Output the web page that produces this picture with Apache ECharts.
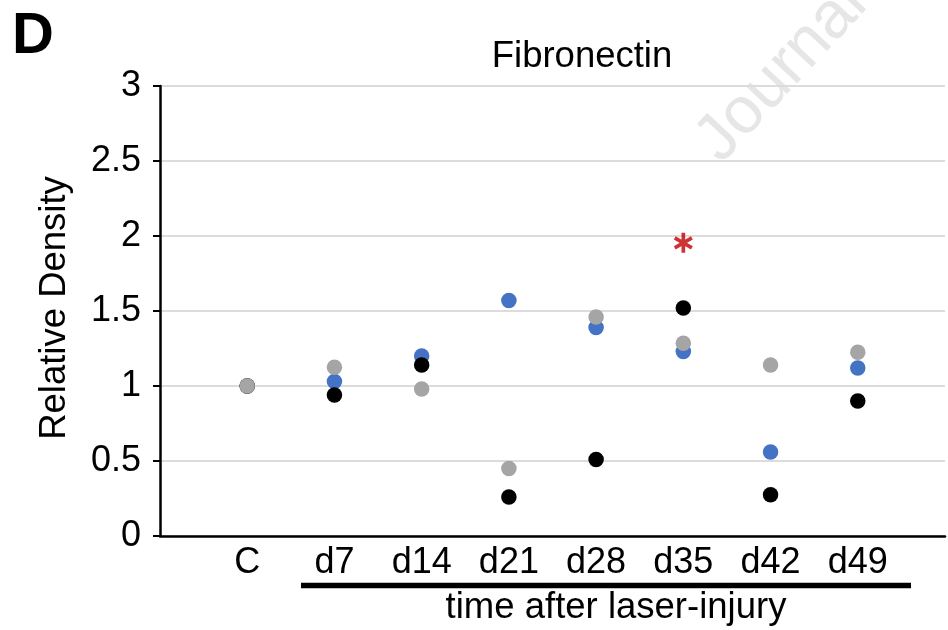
<!DOCTYPE html>
<html>
<head>
<meta charset="utf-8">
<title>Fibronectin</title>
<script src="https://cdn.jsdelivr.net/npm/echarts@6/dist/echarts.min.js"></script>
<style>
  html, body { margin: 0; padding: 0; background: #ffffff; }
  #chart { width: 948px; height: 630px; }
</style>
</head>
<body>
<div id="chart"></div>
<script>
// Time points after laser injury (C = control)
const categories = ['C', 'd7', 'd14', 'd21', 'd28', 'd35', 'd42', 'd49'];

// Relative fibronectin density, one array per replicate
const grayValues  = [1.00, 1.125, 0.98, 0.45, 1.46, 1.285, 1.14, 1.225];
const blueValues  = [1.00, 1.03, 1.20, 1.57, 1.39, 1.23, 0.56, 1.12];
const blackValues = [1.00, 0.94, 1.14, 0.26, 0.51, 1.52, 0.275, 0.90];

// Significance marker
const significance = [['d35', 1.955]];

// Y axis scale
const yMin = 0;
const yMax = 3;
const yStep = 0.5;

const FONT = '"Liberation Sans", Arial, Helvetica, sans-serif';

// Pad the category axis with an empty slot on each side so the points sit inset
const axisCategories = [''].concat(categories, ['']);

// Six-armed asterisk drawn as three overlapping bars
const asteriskPath = 'path://M-1.5 -8 L1.5 -8 L1.5 8 L-1.5 8 Z ' +
  'M-7.7 -2.7 L-6.2 -5.3 L7.7 2.7 L6.2 5.3 Z ' +
  'M6.2 -5.3 L7.7 -2.7 L-6.2 5.3 L-7.7 2.7 Z';

const chart = echarts.init(document.getElementById('chart'), null, { renderer: 'canvas' });

function scatterSeries(name, values, color, z) {
  return {
    name: name,
    type: 'scatter',
    symbol: 'circle',
    symbolSize: 15.5,
    z: z,
    itemStyle: { color: color, opacity: 1 },
    emphasis: { disabled: true },
    data: categories.map((c, i) => [c, values[i]])
  };
}

chart.setOption({
  animation: false,
  backgroundColor: '#ffffff',
  grid: { left: 160, top: 86, width: 792, height: 450, containLabel: false },
  xAxis: {
    type: 'category',
    data: axisCategories,
    boundaryGap: false,
    axisLine: { show: true, lineStyle: { color: '#000000', width: 2.5 } },
    axisTick: { show: false },
    splitLine: { show: false },
    axisLabel: {
      interval: 0,
      color: '#000000',
      fontFamily: FONT,
      fontSize: 36,
      margin: 9
    }
  },
  yAxis: {
    type: 'value',
    min: yMin,
    max: yMax,
    interval: yStep,
    axisLine: { show: true, lineStyle: { color: '#000000', width: 2.5 } },
    axisTick: { show: true, length: 7, lineStyle: { color: '#000000', width: 2 } },
    splitLine: { show: true, lineStyle: { color: '#dcdcdc', width: 2 } },
    axisLabel: {
      color: '#000000',
      fontFamily: FONT,
      fontSize: 36,
      margin: 19
    }
  },
  series: [
    scatterSeries('blue', blueValues, '#4472c4', 2),
    scatterSeries('black', blackValues, '#000000', 3),
    scatterSeries('gray', grayValues, '#a5a5a5', 4),
    {
      name: 'significance',
      type: 'scatter',
      symbol: asteriskPath,
      symbolSize: [19, 20],
      z: 5,
      itemStyle: { color: '#c00000' },
      emphasis: { disabled: true },
      data: significance
    }
  ],
  graphic: [
    {
      type: 'text',
      silent: true,
      z: 0,
      x: 708,
      y: 152,
      rotation: 47 * Math.PI / 180,
      style: {
        text: 'Journal Pre-proof',
        fill: '#e6e6e6',
        font: '66px ' + FONT,
        textAlign: 'left',
        textVerticalAlign: 'middle'
      }
    },
    {
      type: 'text',
      x: 12,
      y: 37,
      style: {
        text: 'D',
        fill: '#000000',
        font: 'bold 58px ' + FONT,
        textAlign: 'left',
        textVerticalAlign: 'middle'
      }
    },
    {
      type: 'text',
      x: 582,
      y: 57,
      style: {
        text: 'Fibronectin',
        fill: '#000000',
        font: '36.5px ' + FONT,
        textAlign: 'center',
        textVerticalAlign: 'middle'
      }
    },
    {
      type: 'text',
      x: 55,
      y: 308,
      rotation: Math.PI / 2,
      style: {
        text: 'Relative Density',
        fill: '#000000',
        font: '36.5px ' + FONT,
        textAlign: 'center',
        textVerticalAlign: 'middle'
      }
    },
    {
      type: 'line',
      shape: { x1: 301, y1: 585.5, x2: 911, y2: 585.5 },
      style: { stroke: '#000000', lineWidth: 5.5 }
    },
    {
      type: 'text',
      x: 616,
      y: 608,
      style: {
        text: 'time after laser-injury',
        fill: '#000000',
        font: '36.5px ' + FONT,
        textAlign: 'center',
        textVerticalAlign: 'middle'
      }
    }
  ]
});
</script>
</body>
</html>
